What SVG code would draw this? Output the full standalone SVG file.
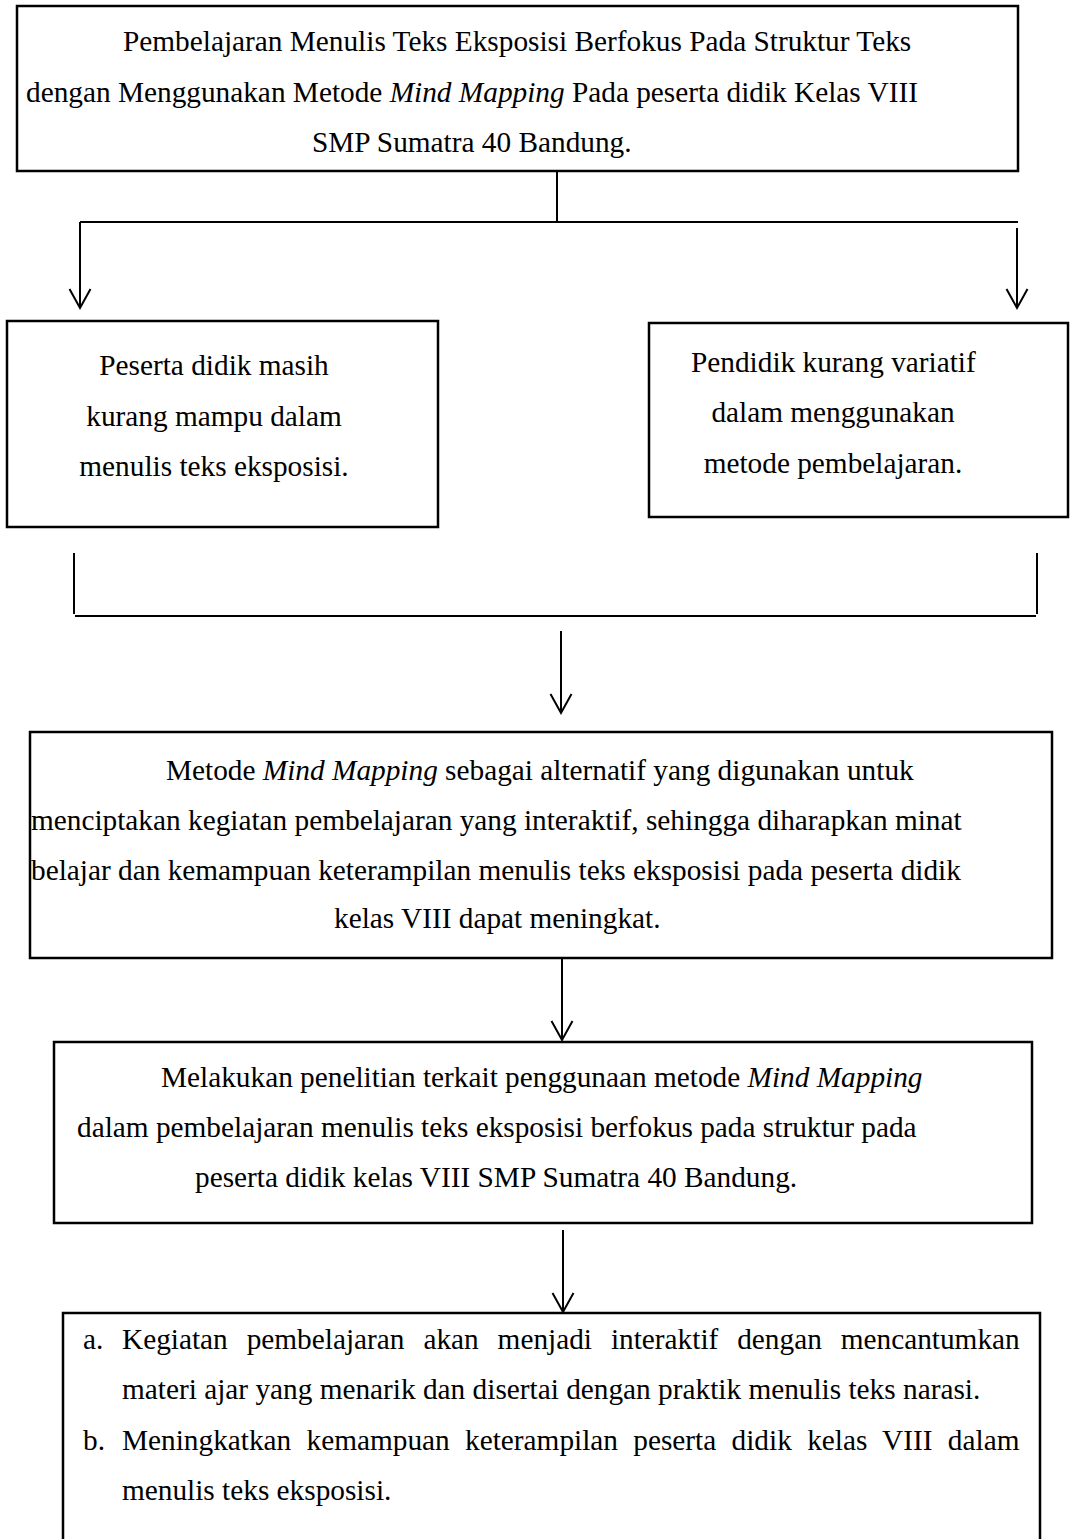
<svg xmlns="http://www.w3.org/2000/svg" width="1070" height="1539" viewBox="0 0 1070 1539">
<defs>
<style>
.box{fill:#fff;stroke:#000;stroke-width:2.5}
.ln{fill:none;stroke:#000;stroke-width:2}
.t{font-family:"Liberation Serif","Times New Roman",serif;font-size:29.3px;fill:#000}
.c{text-anchor:middle}
.i{font-style:italic}
</style>
<marker id="arr" markerUnits="userSpaceOnUse" markerWidth="26" markerHeight="26" viewBox="-22 -13 26 26" refX="0" refY="0" orient="auto">
<path d="M-19,-10.5 L0,0 L-19,10.5" fill="none" stroke="#000" stroke-width="2"/>
</marker>
</defs>
<rect width="1070" height="1539" fill="#fff"/>
<g id="connectors">
<path class="ln" d="M557,171 V222"/>
<path class="ln" d="M80,222 H1018"/>
<path class="ln" d="M80,222 V308" marker-end="url(#arr)"/>
<path class="ln" d="M1017,228 V308" marker-end="url(#arr)"/>
<path class="ln" d="M74,553 V614"/>
<path class="ln" d="M1037,553 V614"/>
<path class="ln" d="M75,616 H1036"/>
<path class="ln" d="M561,631 V713" marker-end="url(#arr)"/>
<path class="ln" d="M562,959 V1040" marker-end="url(#arr)"/>
<path class="ln" d="M563,1230 V1312" marker-end="url(#arr)"/>
</g>
<g id="node-title">
<rect class="box" x="17" y="6" width="1001" height="165"/>
<text class="t" x="123" y="51">Pembelajaran Menulis Teks Eksposisi Berfokus Pada Struktur Teks</text>
<text class="t" x="26" y="102">dengan Menggunakan Metode <tspan class="i">Mind Mapping</tspan> Pada peserta didik Kelas VIII</text>
<text class="t" x="312" y="152">SMP Sumatra 40 Bandung.</text>
</g>
<g id="node-peserta">
<rect class="box" x="7" y="321" width="431" height="206"/>
<text class="t c" x="214" y="375">Peserta didik masih</text>
<text class="t c" x="214" y="426">kurang mampu dalam</text>
<text class="t c" x="214" y="476">menulis teks eksposisi.</text>
</g>
<g id="node-pendidik">
<rect class="box" x="649" y="323" width="419" height="194"/>
<text class="t" x="691" y="372">Pendidik kurang variatif</text>
<text class="t c" x="833" y="422">dalam menggunakan</text>
<text class="t c" x="833" y="473">metode pembelajaran.</text>
</g>
<g id="node-metode">
<rect class="box" x="30" y="732" width="1022" height="226"/>
<text class="t" x="166" y="780">Metode <tspan class="i">Mind Mapping</tspan> sebagai alternatif yang digunakan untuk</text>
<text class="t" x="31" y="830">menciptakan kegiatan pembelajaran yang interaktif, sehingga diharapkan minat</text>
<text class="t" x="31" y="880">belajar dan kemampuan keterampilan menulis teks eksposisi pada peserta didik</text>
<text class="t" x="334" y="928">kelas VIII dapat meningkat.</text>
</g>
<g id="node-penelitian">
<rect class="box" x="54" y="1042" width="978" height="181"/>
<text class="t" x="161" y="1087">Melakukan penelitian terkait penggunaan metode <tspan class="i">Mind Mapping</tspan></text>
<text class="t" x="77" y="1137">dalam pembelajaran menulis teks eksposisi berfokus pada struktur pada</text>
<text class="t" x="195" y="1187">peserta didik kelas VIII SMP Sumatra 40 Bandung.</text>
</g>
<g id="node-hasil">
<rect class="box" x="63" y="1313" width="977" height="260"/>
<text class="t" x="83" y="1349">a.</text>
<text class="t" x="122" y="1349" word-spacing="11.6">Kegiatan pembelajaran akan menjadi interaktif dengan mencantumkan</text>
<text class="t" x="122" y="1399">materi ajar yang menarik dan disertai dengan praktik menulis teks narasi.</text>
<text class="t" x="83" y="1450">b.</text>
<text class="t" x="122" y="1450" word-spacing="8">Meningkatkan kemampuan keterampilan peserta didik kelas VIII dalam</text>
<text class="t" x="122" y="1500">menulis teks eksposisi.</text>
</g>
</svg>
